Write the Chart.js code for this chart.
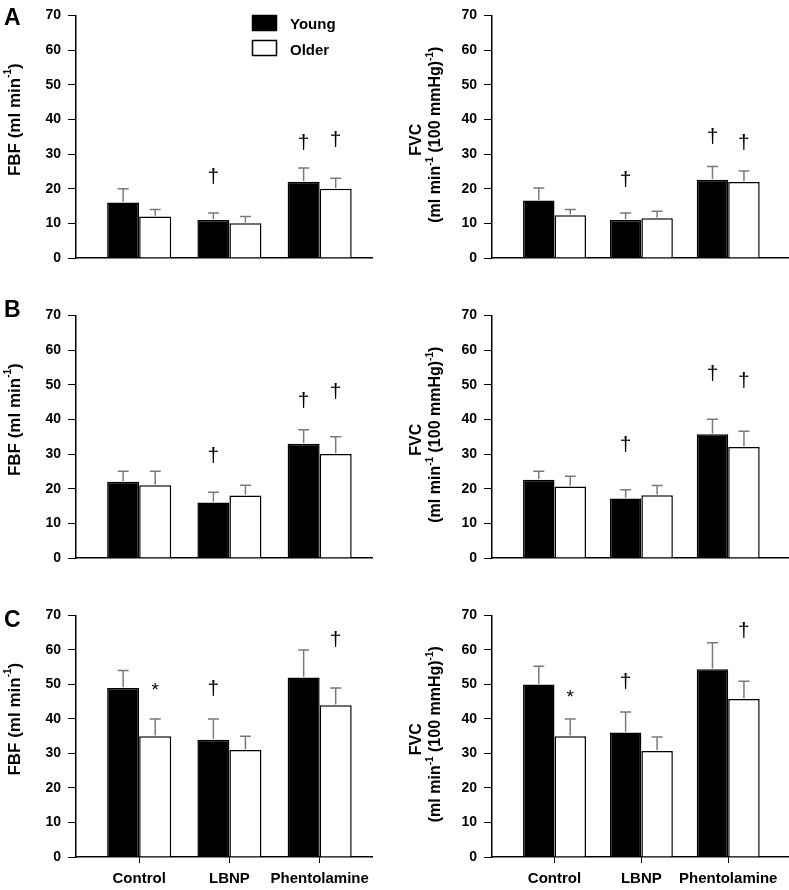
<!DOCTYPE html>
<html>
<head>
<meta charset="utf-8">
<script src="https://cdn.jsdelivr.net/npm/chart.js@4.4.1/dist/chart.umd.min.js"></script>
<style>
  body { margin: 0; background: #fff; }
  #wrap { position: relative; width: 789px; height: 890px; }
  canvas { position: absolute; }
</style>
</head>
<body>
<div id="wrap">
  <canvas id="aLeft"  width="380" height="290" style="left:0;top:0"></canvas>
  <canvas id="aRight" width="399" height="290" style="left:390px;top:0"></canvas>
  <canvas id="bLeft"  width="380" height="290" style="left:0;top:300px"></canvas>
  <canvas id="bRight" width="399" height="290" style="left:390px;top:300px"></canvas>
  <canvas id="cLeft"  width="380" height="290" style="left:0;top:600px"></canvas>
  <canvas id="cRight" width="399" height="290" style="left:390px;top:600px"></canvas>
</div>
<script>
const categories = ['Control', 'LBNP', 'Phentolamine'];
const seriesNames = ['Young', 'Older'];
const yMin = 0, yMax = 70, yStep = 10;

// values (mean, SE), order = categories
const fbfYoungA = [16, 11, 22];
const fbfYoungErrA = [4, 2, 4];
const fbfOlderA = [12, 10, 20];
const fbfOlderErrA = [2, 2, 3];
const fvcYoungA = [16.6, 11, 22.6];
const fvcYoungErrA = [3.6, 2, 3.8];
const fvcOlderA = [12.3, 11.5, 21.9];
const fvcOlderErrA = [1.7, 2, 3.2];

const fbfYoungB = [22, 16, 33];
const fbfYoungErrB = [3, 3, 4];
const fbfOlderB = [21, 18, 30];
const fbfOlderErrB = [4, 3, 5];
const fvcYoungB = [22.6, 17.2, 35.7];
const fvcYoungErrB = [2.4, 2.5, 4.3];
const fvcOlderB = [20.6, 18.1, 32];
const fvcOlderErrB = [3, 2.8, 4.6];

const fbfYoungC = [49, 34, 52];
const fbfYoungErrC = [5, 6, 8];
const fbfOlderC = [35, 31, 44];
const fbfOlderErrC = [5, 4, 5];
const fvcYoungC = [50, 36.1, 54.4];
const fvcYoungErrC = [5.3, 5.9, 7.7];
const fvcOlderC = [35, 30.7, 45.8];
const fvcOlderErrC = [5, 4.1, 5.1];

// significance symbols: [series, category, symbol, level]
const fbfMarksA = [[0, 1, '†', 23.2], [0, 2, '†', 33.2], [1, 2, '†', 34]];
const fvcMarksA = [[0, 1, '†', 22.5], [0, 2, '†', 34.7], [1, 2, '†', 33.1]];
const fbfMarksB = [[0, 1, '†', 29.4], [0, 2, '†', 45.3], [1, 2, '†', 47.7]];
const fvcMarksB = [[0, 1, '†', 32.6], [0, 2, '†', 53], [1, 2, '†', 50.9]];
const fbfMarksC = [[1, 0, '*', 49.6], [0, 1, '†', 48.6], [1, 2, '†', 62.7]];
const fvcMarksC = [[1, 0, '*', 47.6], [0, 1, '†', 50.7], [1, 2, '†', 65.5]];

const FONT = '"Liberation Sans", Arial, sans-serif';
Chart.defaults.font.family = FONT;

// text pieces: [text, size, rise]
const fbfTitle = [['FBF (ml min', 17, 0], ['-1', 10, 7], [')', 17, 0]];
const fvcTitle1 = [['FVC', 16, 0]];
const fvcTitle2 = [['(ml min', 16, 0], ['-1', 10, 6], [' (100 mmHg)', 16, 0], ['-1', 10, 6], [')', 16, 0]];

function drawRotated(ctx, parts, cx, cy) {
  ctx.save();
  ctx.translate(cx, cy);
  ctx.rotate(-Math.PI / 2);
  ctx.textBaseline = 'middle';
  ctx.textAlign = 'left';
  let total = 0;
  parts.forEach(p => { ctx.font = 'bold ' + p[1] + 'px ' + FONT; total += ctx.measureText(p[0]).width; });
  let x = -total / 2;
  parts.forEach(p => {
    ctx.font = 'bold ' + p[1] + 'px ' + FONT;
    ctx.fillText(p[0], x, -p[2]);
    x += ctx.measureText(p[0]).width;
  });
  ctx.restore();
}

function makeDecor(p) {
  return {
    id: 'decor',
    afterDatasetsDraw(chart) {
      const ctx = chart.ctx;
      const y = chart.scales.y;
      const area = chart.chartArea;
      ctx.save();
      // error bars (upper only)
      chart.data.datasets.forEach((ds, di) => {
        chart.getDatasetMeta(di).data.forEach((bar, i) => {
          const base = y.getPixelForValue(ds.data[i].y) - 0.75;
          const top = y.getPixelForValue(ds.data[i].y + ds.errors[i]);
          ctx.strokeStyle = '#7a7a7a';
          ctx.lineWidth = 1.5;
          ctx.beginPath();
          ctx.moveTo(bar.x, base); ctx.lineTo(bar.x, top);
          ctx.moveTo(bar.x - 5.5, top); ctx.lineTo(bar.x + 5.5, top);
          ctx.stroke();
        });
      });
      // significance symbols
      ctx.fillStyle = '#000';
      ctx.textAlign = 'center';
      ctx.textBaseline = 'alphabetic';
      p.marks.forEach(([s, c, sym, level]) => {
        const bx = chart.getDatasetMeta(s).data[c].x;
        const py = y.getPixelForValue(level);
        if (sym === '*') {
          ctx.font = '19px ' + FONT;
          ctx.fillText(sym, bx, py + 10.5);
        } else {
          ctx.font = '21px ' + FONT;
          ctx.fillText(sym, bx, py + 5.6);
        }
      });
      // axis titles
      const mid = (area.top + area.bottom) / 2;
      if (p.side === 'left') {
        drawRotated(ctx, fbfTitle, 15, mid - 17);
      } else {
        drawRotated(ctx, fvcTitle1, 27, mid + 3);
        drawRotated(ctx, fvcTitle2, 46, mid - 2);
      }
      // panel letter
      if (p.letter) {
        ctx.font = 'bold 23px ' + FONT;
        ctx.textAlign = 'left';
        ctx.fillText(p.letter, 4, p.letterY);
      }
      // legend
      if (p.legend) {
        const ds = chart.data.datasets;
        ctx.font = 'bold 15px ' + FONT;
        ctx.textBaseline = 'middle';
        ctx.textAlign = 'left';
        [[15.5, 25], [40.5, 50.5]].forEach(([by, ty], k) => {
          ctx.fillStyle = ds[k].backgroundColor;
          ctx.fillRect(252.5, by, 24, 15);
          ctx.strokeStyle = '#000';
          ctx.lineWidth = 1.5;
          ctx.strokeRect(252.5, by, 24, 15);
          ctx.fillStyle = '#000';
          ctx.fillText(ds[k].label, 290, ty);
        });
      }
      ctx.restore();
    }
  };
}

function makePanel(id, p) {
  const left = p.side === 'left';
  const bottomRow = p.row === 'C';
  new Chart(document.getElementById(id), {
    type: 'bar',
    data: {
      datasets: [
        { label: seriesNames[0], data: p.young.map((v, i) => ({ x: i, y: v })), errors: p.youngErr,
          backgroundColor: '#000', borderColor: '#000', borderWidth: 1.5 },
        { label: seriesNames[1], data: p.older.map((v, i) => ({ x: i, y: v })), errors: p.olderErr,
          backgroundColor: '#fff', borderColor: '#000', borderWidth: 1.5 }
      ]
    },
    options: {
      responsive: false,
      animation: false,
      layout: { padding: { left: 0, right: left ? 8 : 0, top: bottomRow ? 8 : 9, bottom: 0 } },
      plugins: { legend: { display: false }, tooltip: { enabled: false } },
      datasets: { bar: { barPercentage: 1, categoryPercentage: left ? 0.71 : 0.725 } },
      scales: {
        x: {
          type: 'linear',
          min: left ? -0.70 : -0.72,
          max: left ? 2.58 : 2.70,
          offset: false,
          afterBuildTicks: s => { s.ticks = categories.map((c, i) => ({ value: i })); },
          afterFit: s => { s.height = bottomRow ? 33 : 32; },
          ticks: {
            display: bottomRow, autoSkip: false, maxRotation: 0, padding: 7, color: '#000',
            font: { size: 15, weight: 'bold' },
            callback: v => categories[v]
          },
          grid: { display: bottomRow, drawOnChartArea: false, drawTicks: true, tickLength: 6,
                  color: '#000', offset: false },
          border: { display: true, color: '#000', width: 1.5 }
        },
        y: {
          min: yMin, max: yMax,
          afterFit: s => { s.width = left ? 76 : 102; },
          ticks: { stepSize: yStep, padding: 7, color: '#000', font: { size: 14, weight: 'bold' } },
          grid: { drawOnChartArea: false, drawTicks: true, tickLength: 8, color: '#000' },
          border: { color: '#000', width: 1.5 }
        }
      }
    },
    plugins: [makeDecor(p)]
  });
}

makePanel('aLeft', { side: 'left', row: 'A', letter: 'A', letterY: 25, legend: true,
  young: fbfYoungA, youngErr: fbfYoungErrA, older: fbfOlderA, olderErr: fbfOlderErrA, marks: fbfMarksA });
makePanel('aRight', { side: 'right', row: 'A',
  young: fvcYoungA, youngErr: fvcYoungErrA, older: fvcOlderA, olderErr: fvcOlderErrA, marks: fvcMarksA });
makePanel('bLeft', { side: 'left', row: 'B', letter: 'B', letterY: 17,
  young: fbfYoungB, youngErr: fbfYoungErrB, older: fbfOlderB, olderErr: fbfOlderErrB, marks: fbfMarksB });
makePanel('bRight', { side: 'right', row: 'B',
  young: fvcYoungB, youngErr: fvcYoungErrB, older: fvcOlderB, olderErr: fvcOlderErrB, marks: fvcMarksB });
makePanel('cLeft', { side: 'left', row: 'C', letter: 'C', letterY: 27,
  young: fbfYoungC, youngErr: fbfYoungErrC, older: fbfOlderC, olderErr: fbfOlderErrC, marks: fbfMarksC });
makePanel('cRight', { side: 'right', row: 'C',
  young: fvcYoungC, youngErr: fvcYoungErrC, older: fvcOlderC, olderErr: fvcOlderErrC, marks: fvcMarksC });
</script>
</body>
</html>
